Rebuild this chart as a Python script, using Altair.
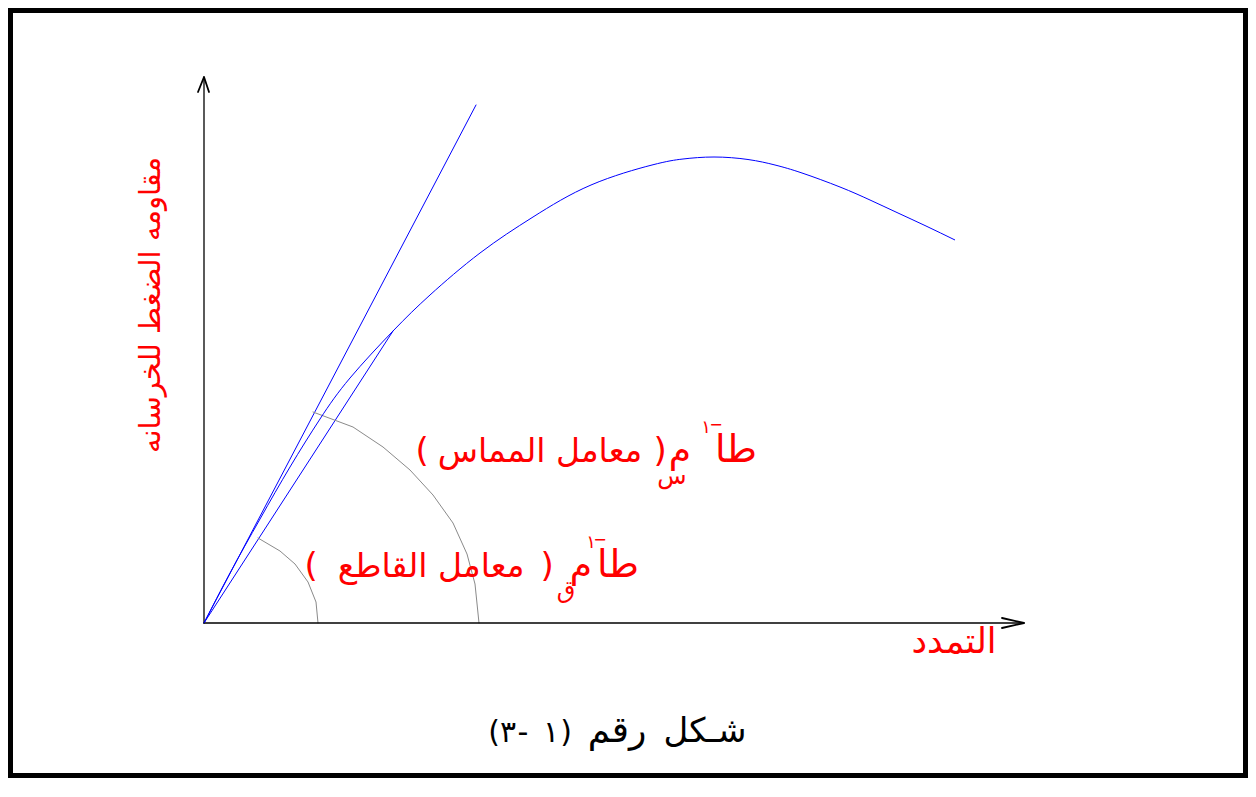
import altair as alt
import pandas as pd

# ---- data (strain to the right, stress upward, drawing units) ----
curve_strain = [0, 26, 56, 86, 116, 146, 189, 226, 276, 329, 387, 448, 479, 510,
                 544, 571, 598, 636, 666, 694, 722, 751]
curve_stress = [0, 50, 104, 156, 204, 245, 292, 328, 370, 406, 438, 458, 464, 466,
                463.5, 458, 450, 436, 423, 410, 397, 383]

tangent_strain = [0, 272]
tangent_stress = [0, 518]
secant_strain = [0, 189]
secant_stress = [0, 292]

arc_big_strain = [109, 149, 179, 206, 229, 249, 263, 271, 275]
arc_big_stress = [211, 196, 176, 153, 128, 100, 69, 39, 0]
arc_small_strain = [54, 76, 91, 104, 112, 114]
arc_small_stress = [85, 72, 59, 41, 21, 0]

yaxis_strain = [0, 0]
yaxis_stress = [0, 546]
yarrow_strain = [-6, 0, 5]
yarrow_stress = [531, 546, 531]
xaxis_strain = [0, 820]
xaxis_stress = [0, 0]
xarrow_strain = [798, 820, 798]
xarrow_stress = [5, 0, -5]

# texts: (text, strain, stress, size, colour, angle)
label_texts = [
    ("(", 218, 161, 34, "#ff0000", 0),
    ("معامل المماس", 336, 161, 33, "#ff0000", 0),
    (")", 456, 161, 34, "#ff0000", 0),
    ("م", 476, 161, 36, "#ff0000", 0),
    ("س", 468, 139, 24, "#ff0000", 0),
    ("١", 502, 190, 18, "#ff0000", 0),
    ("−", 512, 193, 16, "#ff0000", 0),
    ("طا", 532, 161, 38, "#ff0000", 0),
    ("(", 107, 46, 34, "#ff0000", 0),
    ("معامل القاطع", 227, 46, 33, "#ff0000", 0),
    (")", 343, 46, 34, "#ff0000", 0),
    ("م", 377, 46, 36, "#ff0000", 0),
    ("ق", 362, 25, 24, "#ff0000", 0),
    ("١", 387, 75, 18, "#ff0000", 0),
    ("−", 396, 78, 16, "#ff0000", 0),
    ("طا", 414, 46, 38, "#ff0000", 0),
    ("مقاومه الضغط للخرسانه", -44, 318, 29, "#ff0000", 270),
    ("التمدد", 750, -30, 35, "#ff0000", 0),
    ("شـكل", 501, -119, 34, "#000000", 0),
    ("رقم", 413, -119, 36, "#000000", 0),
    ("(", 290, -119, 30, "#000000", 0),
    ("٣", 304, -119, 30, "#000000", 0),
    ("-", 319, -119, 30, "#000000", 0),
    ("١", 347, -119, 30, "#000000", 0),
    (")", 362, -119, 30, "#000000", 0),
]

# ---- build tables ----
def seg(name, xs, ys, color, width):
    return pd.DataFrame({
        "strain": xs, "stress": ys, "seg": name,
        "idx": list(range(len(xs))), "color": color, "sw": width,
    })

curve_df = seg("curve", curve_strain, curve_stress, "#0000ff", 1.0)
lines_df = pd.concat([
    seg("tangent", tangent_strain, tangent_stress, "#0000ff", 1.0),
    seg("secant", secant_strain, secant_stress, "#0000ff", 1.0),
    seg("arc_big", arc_big_strain, arc_big_stress, "#8a8a8a", 1.0),
    seg("arc_small", arc_small_strain, arc_small_stress, "#8a8a8a", 1.0),
    seg("yaxis", yaxis_strain, yaxis_stress, "#000000", 1.3),
    seg("yarrow", yarrow_strain, yarrow_stress, "#000000", 1.8),
    seg("xaxis", xaxis_strain, xaxis_stress, "#000000", 1.3),
    seg("xarrow", xarrow_strain, xarrow_stress, "#000000", 1.8),
], ignore_index=True)

text_df = pd.DataFrame(label_texts, columns=["text", "strain", "stress", "size", "color", "angle"])

xs = alt.Scale(domain=[-196, 1044], nice=False, zero=False)
ys = alt.Scale(domain=[-155, 615], nice=False, zero=False)
X = alt.X("strain:Q", scale=xs, axis=None)
Y = alt.Y("stress:Q", scale=ys, axis=None)

curve = alt.Chart(curve_df).mark_line(interpolate="natural").encode(
    x=X, y=Y, order="idx:Q",
    color=alt.Color("color:N", scale=None),
    strokeWidth=alt.StrokeWidth("sw:Q", scale=None),
)

lines = alt.Chart(lines_df).mark_line(strokeCap="round", strokeJoin="round").encode(
    x=X, y=Y, detail="seg:N", order="idx:Q",
    color=alt.Color("color:N", scale=None),
    strokeWidth=alt.StrokeWidth("sw:Q", scale=None),
)

texts = alt.Chart(text_df).mark_text(
    font="DejaVu Sans", align="center", baseline="alphabetic"
).encode(
    x=X, y=Y, text="text:N",
    size=alt.Size("size:Q", scale=None),
    color=alt.Color("color:N", scale=None),
    angle=alt.Angle("angle:Q", scale=None),
)

chart = alt.layer(lines, curve, texts).properties(
    width=1240, height=770, padding=0,
    autosize=alt.AutoSizeParams(type="none"),
    background="white",
).configure_view(stroke="black", strokeWidth=10)

chart.save("out.html", embed_options={"renderer": "svg", "actions": False})
